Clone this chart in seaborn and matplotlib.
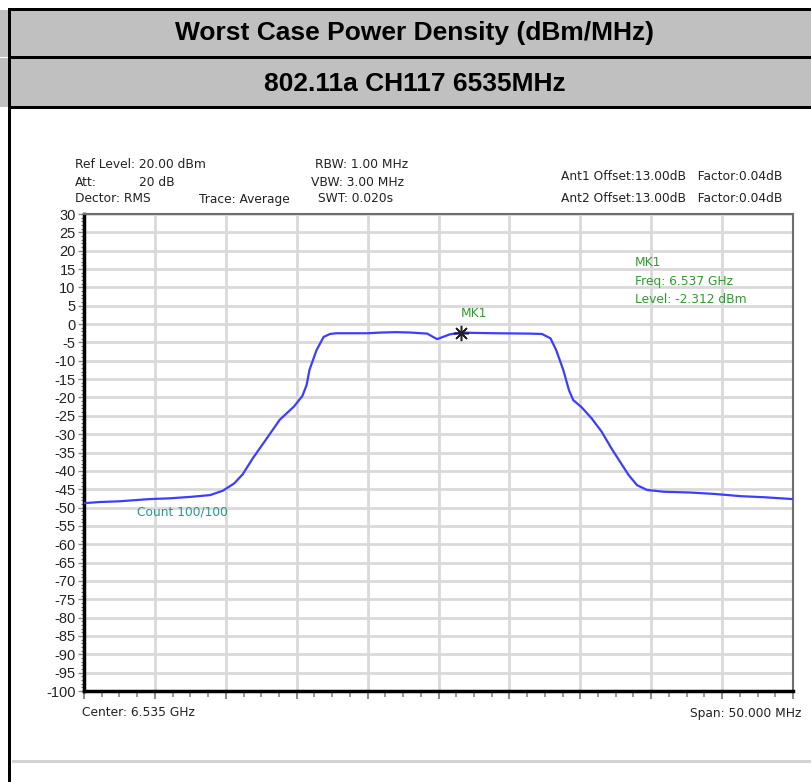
import matplotlib
matplotlib.use("Agg")
import matplotlib.pyplot as plt
import numpy as np
import pandas as pd
import seaborn as sns
from matplotlib.patches import Rectangle
from matplotlib.ticker import MultipleLocator

sns.set_style("white")
plt.rcParams.update({"font.family": ["Liberation Sans", "DejaVu Sans"],
                     "axes.unicode_minus": False})

# trace (GHz, dBm)
freq_ghz = [6.5100, 6.5111, 6.5125, 6.5146, 6.5160, 6.5175, 6.5189, 6.5198,
            6.5206, 6.5212, 6.5219, 6.5229, 6.5238, 6.5248, 6.5254, 6.5257,
            6.5259, 6.5264, 6.5269, 6.52735, 6.5278, 6.5300, 6.5310, 6.5320,
            6.5330, 6.5342, 6.5349, 6.5358, 6.5366, 6.5375, 6.5390, 6.54145,
            6.5423, 6.5429, 6.5433, 6.5438, 6.5442, 6.5445, 6.5451, 6.5458,
            6.5465, 6.5472, 6.5478, 6.5484, 6.5490, 6.5497, 6.5509, 6.5527,
            6.5545, 6.5563, 6.5580, 6.5600]
level_dbm = [-48.8, -48.5, -48.3, -47.7, -47.5, -47.1, -46.6, -45.4,
             -43.4, -40.9, -36.6, -31.1, -26.1, -22.5, -19.6, -16.6,
             -12.5, -7.1, -3.5, -2.7, -2.5, -2.5, -2.3, -2.2,
             -2.3, -2.6, -4.1, -2.8, -2.3, -2.4, -2.5, -2.6,
             -2.7, -3.9, -7.1, -12.5, -18.0, -20.7, -22.7, -25.7,
             -29.3, -33.9, -37.5, -41.1, -43.9, -45.2, -45.7, -45.9,
             -46.3, -46.9, -47.2, -47.7]

mk1_freq = 6.5366
mk1_level = -2.312

center_ghz = 6.535
span_mhz = 50.0

title = "Worst Case Power Density (dBm/MHz)"
subtitle = "802.11a CH117 6535MHz"

W, H = 812, 782


def fx(px):
    return px / W


def fy(py):
    return 1 - py / H


fig = plt.figure(figsize=(W / 100, H / 100), dpi=100)

# header table look
def band(y0, y1, color, x0=0, x1=W):
    fig.add_artist(Rectangle((fx(x0), fy(y1)), fx(x1) - fx(x0), fy(y0) - fy(y1),
                             transform=fig.transFigure, facecolor=color,
                             edgecolor="none", zorder=0))

band(10, 57, "#c0c0c0")
band(58, 107, "#c0c0c0")
band(8, 11, "black", x0=8)
band(56, 59, "black", x0=8)
band(106, 109, "black", x0=8)
band(8, H, "black", x0=8, x1=11)
band(760, 763, "#d4d4d4", x0=12)

fig.text(fx(415), fy(33), title, ha="center", va="center",
         fontsize=19, fontweight="bold", color="black")
fig.text(fx(415), fy(84), subtitle, ha="center", va="center",
         fontsize=19, fontweight="bold", color="black")

# spectrum axes
ax = fig.add_axes([fx(84), fy(691), fx(793) - fx(84), fy(214) - fy(691)])
df = pd.DataFrame({"freq": freq_ghz, "level": level_dbm})
sns.lineplot(data=df, x="freq", y="level", ax=ax, color="#3d3dff",
             linewidth=1.6, zorder=3)
ax.plot([mk1_freq], [mk1_level], marker=(8, 2, 0), markersize=11,
        color="#222222", markeredgewidth=1.1, zorder=4)

ax.set_xlim(center_ghz - span_mhz / 2000, center_ghz + span_mhz / 2000)
ax.set_ylim(-100, 30)
ax.xaxis.set_major_locator(MultipleLocator(0.005))
ax.xaxis.set_minor_locator(MultipleLocator(0.00125))
ax.yaxis.set_major_locator(MultipleLocator(5))
ax.yaxis.set_minor_locator(MultipleLocator(1))
ax.grid(True, which="major", color="#d9d9d9", linewidth=2)
ax.set_axisbelow(True)
ax.set_xlabel("")
ax.set_ylabel("")
ax.tick_params(axis="both", which="both", bottom=True, left=True)
ax.tick_params(axis="x", which="major", direction="out", colors="#8a8a8a",
               length=6, width=1.4, labelbottom=False)
ax.tick_params(axis="x", which="minor", direction="out", colors="#8a8a8a",
               length=4, width=1.2, labelbottom=False)
ax.tick_params(axis="y", which="major", direction="out", length=4, width=1,
               color="#8a8a8a", labelsize=10.5, labelcolor="#222222", pad=2)
ax.tick_params(axis="y", which="minor", direction="out", length=2.5, width=0.9,
               color="#6a6a6a")
for side in ("left", "bottom"):
    ax.spines[side].set_color("black")
    ax.spines[side].set_linewidth(2.5)
for side in ("top", "right"):
    ax.spines[side].set_color("#6e6e6e")
    ax.spines[side].set_linewidth(1.5)

# analyzer setting texts
small = dict(fontsize=8.8, color="#222222", family=["DejaVu Sans"], va="center")
fig.text(fx(75), fy(164), "Ref Level: 20.00 dBm", **small)
fig.text(fx(75), fy(182), "Att:", **small)
fig.text(fx(139), fy(182), "20 dB", **small)
fig.text(fx(75), fy(199), "Dector: RMS", **small)
fig.text(fx(199), fy(199), "Trace: Average", **small)
fig.text(fx(315), fy(164), "RBW: 1.00 MHz", **small)
fig.text(fx(311), fy(182), "VBW: 3.00 MHz", **small)
fig.text(fx(318), fy(199), "SWT: 0.020s", **small)
fig.text(fx(561), fy(177), "Ant1 Offset:13.00dB   Factor:0.04dB", **small)
fig.text(fx(561), fy(199), "Ant2 Offset:13.00dB   Factor:0.04dB", **small)
fig.text(fx(82), fy(713), "Center: 6.535 GHz", **small)
fig.text(fx(801), fy(713), "Span: 50.000 MHz", ha="right", **small)

fig.text(fx(137), fy(512), "Count 100/100", fontsize=8.8, color="#1f9a9a",
         family=["DejaVu Sans"], va="center")

green = dict(fontsize=8.8, color="#2f9a2f", family=["DejaVu Sans"], va="center")
ax.annotate("MK1", (mk1_freq, mk1_level), xytext=(0, 14),
            textcoords="offset points", ha="left", **green)
fig.text(fx(635), fy(263), "MK1", **green)
fig.text(fx(635), fy(282), f"Freq: {mk1_freq:.3f} GHz", **green)
fig.text(fx(635), fy(300), f"Level: {mk1_level:.3f} dBm", **green)

fig.savefig("out.png", dpi=100)
